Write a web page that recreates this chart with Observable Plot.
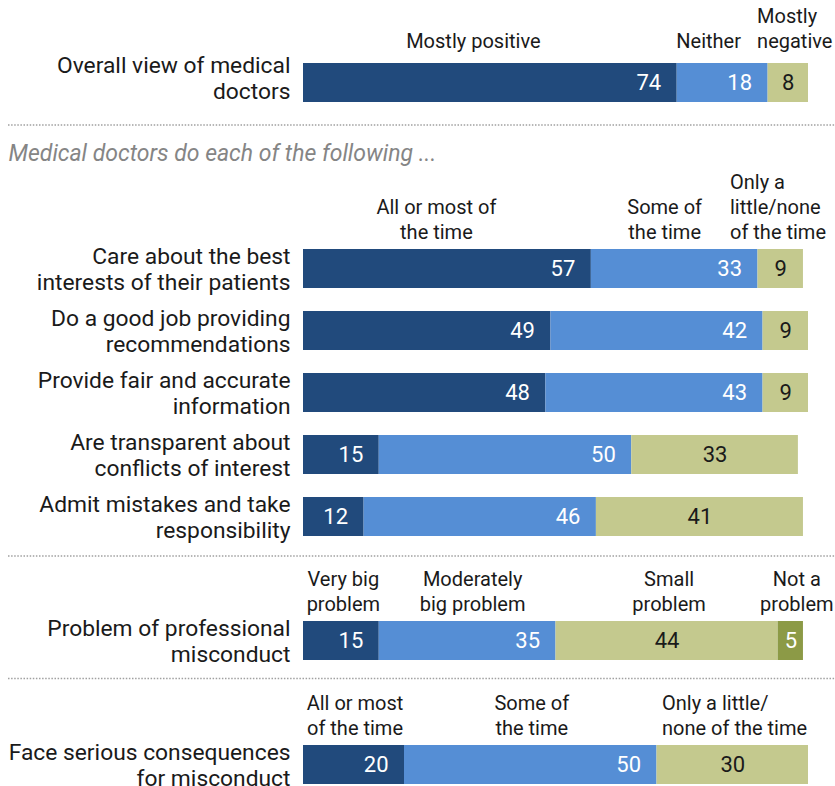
<!DOCTYPE html>
<html><head><meta charset="utf-8">
<script src="https://cdn.jsdelivr.net/npm/d3@7"></script>
<script src="https://cdn.jsdelivr.net/npm/@observablehq/plot@0.6"></script>
<style>body{margin:0;background:#fff}</style>
</head><body><div id="chart"></div>
<script>
// ---- data ----
const overallLabel = "Overall view of medical\ndoctors";
const overallCats = ["Mostly positive", "Neither", "Mostly\nnegative"];
const overallValues = [74, 18, 8];

const subtitle = "Medical doctors do each of the following ...";

const doctorItems = [
  "Care about the best\ninterests of their patients",
  "Do a good job providing\nrecommendations",
  "Provide fair and accurate\ninformation",
  "Are transparent about\nconflicts of interest",
  "Admit mistakes and take\nresponsibility"
];
const doctorCats = ["All or most of\nthe time", "Some of\nthe time", "Only a\nlittle/none\nof the time"];
const doctorValues = [
  [57, 33, 9],
  [49, 42, 9],
  [48, 43, 9],
  [15, 50, 33],
  [12, 46, 41]
];

const problemLabel = "Problem of professional\nmisconduct";
const problemCats = ["Very big\nproblem", "Moderately\nbig problem", "Small\nproblem", "Not a\nproblem"];
const problemValues = [15, 35, 44, 5];

const faceLabel = "Face serious consequences\nfor misconduct";
const faceCats = ["All or most\nof the time", "Some of\nthe time", "Only a little/\nnone of the time"];
const faceValues = [20, 50, 30];

const colors = ["#214a7c", "#558ed5", "#c4c98e", "#8c9a46"];

// ---- presentation: header label nudges (px) and alignment per panel ----
const headerStyle = [
  {dx: [-17, -14, -11], lastAnchor: "start"},
  {dx: [-11, -10, -28], lastAnchor: "start"},
  {dx: [2, 5, 2, 6], lastAnchor: "middle"},
  {dx: [1, 1, 5], lastAnchor: "start"}
];

// ---- build tables ----
const groups = [
  {rows: [overallLabel], cats: overallCats, values: [overallValues]},
  {rows: doctorItems, cats: doctorCats, values: doctorValues},
  {rows: [problemLabel], cats: problemCats, values: [problemValues]},
  {rows: [faceLabel], cats: faceCats, values: [faceValues]}
];
const hdrRow = " hdr", gapC = " gapC", gapD = " gapD";
const yDomain = [overallLabel, subtitle, hdrRow, ...doctorItems, gapC, problemLabel, gapD, faceLabel];
const labelRows = [overallLabel, ...doctorItems, problemLabel, faceLabel];

const segments = [];
const headers = [];
groups.forEach((g, gi) => {
  g.rows.forEach((row, r) => {
    let cum = 0;
    g.values[r].forEach((v, i) => {
      segments.push({row, i, v, x1: cum, x2: cum + v});
      if (r === 0) headers.push({row, gi, i, last: i === g.cats.length - 1, label: g.cats[i], x1: cum, cx: cum + v / 2});
      cum += v;
    });
  });
});

const font = "'Roboto', 'Liberation Sans', sans-serif";
const fsLabel = 22.8, fsValue = 22, fsHeader = 20, fsSub = 23;
const bw = 39;
const ink = "#1a1a1a";

const headerMarks = headers.map(h => {
  const st = headerStyle[h.gi];
  const anchor = h.last ? st.lastAnchor : "middle";
  return Plot.text([h], {
    y: "row", x: anchor === "start" ? "x1" : "cx", text: "label",
    textAnchor: anchor, lineAnchor: "bottom",
    dx: st.dx[h.i], dy: -bw / 2 - (h.gi === 0 ? 16 : 11),
    fontSize: fsHeader, lineHeight: 1.25, fill: ink
  });
});

const chart = Plot.plot({
  width: 835,
  height: 786,
  marginTop: 63,
  marginBottom: 0,
  marginLeft: 303,
  marginRight: 27,
  style: {fontFamily: font, background: "#fff"},
  x: {domain: [0, 100], axis: null},
  y: {domain: yDomain, axis: null, paddingInner: 0.373, paddingOuter: 0, align: 0},
  color: {type: "ordinal", domain: [0, 1, 2, 3], range: colors},
  marks: [
    Plot.ruleY([subtitle], {stroke: "#a0a0a0", strokeWidth: 1.5, strokeDasharray: "1.5 1.6", insetLeft: -295, insetRight: -27, dy: -20}),
    Plot.ruleY([gapC], {stroke: "#a0a0a0", strokeWidth: 1.5, strokeDasharray: "1.5 1.6", insetLeft: -295, insetRight: -27, dy: -23}),
    Plot.ruleY([gapD], {stroke: "#a0a0a0", strokeWidth: 1.5, strokeDasharray: "1.5 1.6", insetLeft: -295, insetRight: -27, dy: -24.5}),
    Plot.barX(segments, {y: "row", x1: "x1", x2: "x2", fill: "i"}),
    Plot.text(segments.filter(d => d.i < 2), {
      y: "row", x: "x2", text: d => String(d.v), textAnchor: "end", dx: -16,
      fill: "white", fontSize: fsValue
    }),
    Plot.text(segments.filter(d => d.i >= 2), {
      y: "row", x: d => (d.x1 + d.x2) / 2, text: d => String(d.v),
      fill: d => d.i === 3 ? "white" : ink, fontSize: fsValue
    }),
    Plot.text(labelRows.filter(d => d !== overallLabel), {
      y: d => d, text: d => d, frameAnchor: "left", textAnchor: "end", dx: -13,
      fontSize: fsLabel, lineHeight: 1.14, fill: ink
    }),
    Plot.text([overallLabel], {
      y: d => d, text: d => d, frameAnchor: "left", textAnchor: "end", dx: -13, dy: -5,
      fontSize: fsLabel, lineHeight: 1.14, fill: ink
    }),
    ...headerMarks,
    Plot.text([subtitle], {
      y: d => d, text: d => d, frameAnchor: "left", textAnchor: "start", dx: -295, dy: 9,
      fontSize: fsSub, fontStyle: "italic", fill: "#858585"
    })
  ]
});
document.getElementById("chart").append(chart);
</script>
</body></html>
